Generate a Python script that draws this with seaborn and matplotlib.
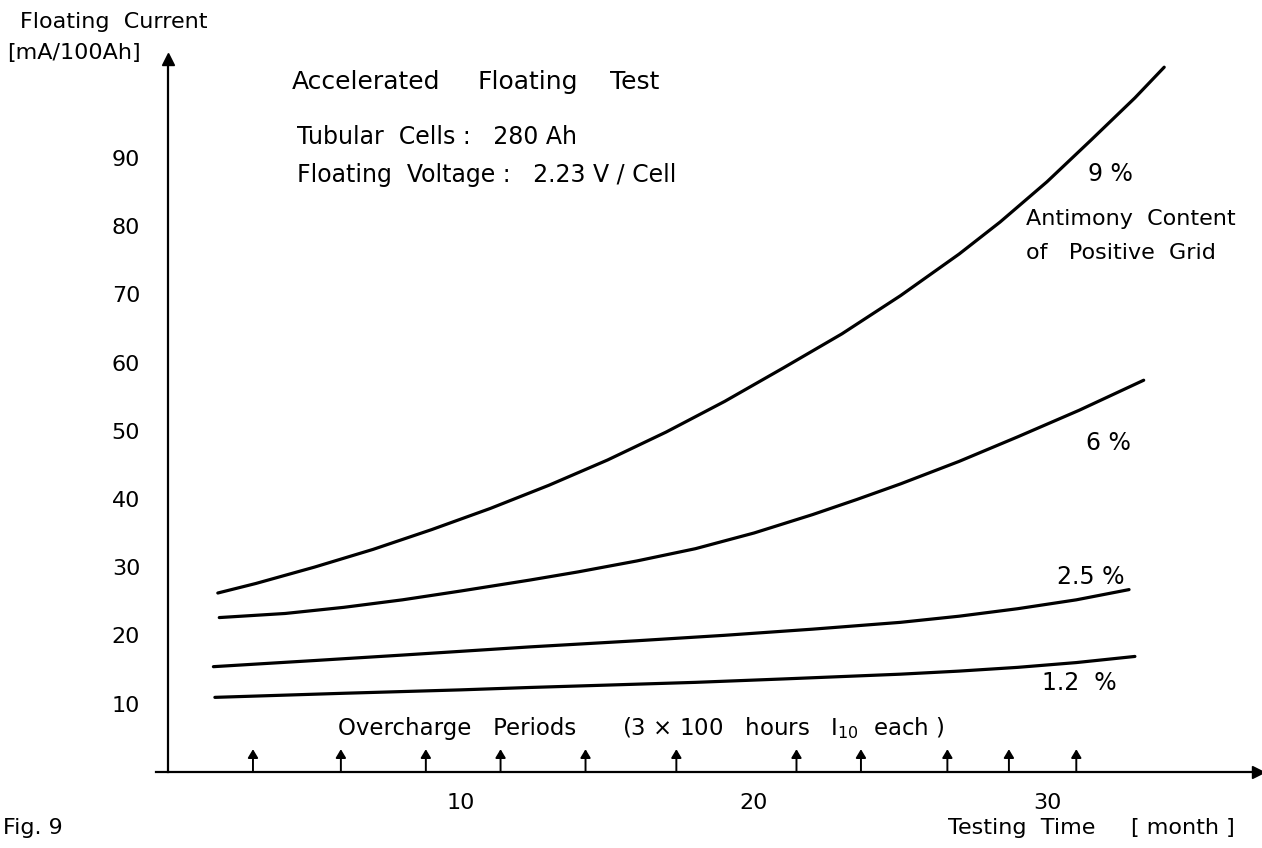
import matplotlib
matplotlib.use("Agg")
import matplotlib.pyplot as plt
import seaborn as sns
import pandas as pd
import numpy as np

# ---- data ----
x_sb9 = [1.7, 3, 5, 7, 9, 11, 13, 15, 17, 19, 21, 23, 25, 27, 28.4, 30, 31.5, 33, 34]
y_sb9 = [26.2, 27.6, 30.0, 32.6, 35.5, 38.6, 42.0, 45.7, 49.8, 54.3, 59.2, 64.2,
         69.8, 75.9, 80.6, 86.5, 92.6, 98.8, 103.3]

x_sb6 = [1.75, 4, 6, 8, 10, 12.35, 14, 16, 18, 20, 22, 23.5, 25, 27, 29, 31.1, 33.3]
y_sb6 = [22.6, 23.2, 24.1, 25.2, 26.5, 28.1, 29.3, 30.9, 32.7, 35.0, 37.7, 39.9,
         42.2, 45.5, 49.1, 53.0, 57.4]

x_sb25 = [1.55, 5, 8, 12.35, 16, 19, 22, 25, 27, 29, 31, 32.8]
y_sb25 = [15.4, 16.3, 17.1, 18.3, 19.2, 20.0, 20.9, 21.9, 22.8, 23.9, 25.2, 26.7]

x_sb12 = [1.6, 6, 10, 12.35, 15, 18, 21, 25, 27, 29, 31, 33]
y_sb12 = [10.9, 11.5, 12.0, 12.35, 12.7, 13.1, 13.6, 14.3, 14.75, 15.3, 16.0, 16.9]

overcharge_x = [2.9, 5.9, 8.8, 11.35, 14.25, 17.35, 21.45, 23.65, 26.6, 28.7, 31.0]

x_ticks = [10, 20, 30]
y_ticks = [10, 20, 30, 40, 50, 60, 70, 80, 90]

series = [("9 %", x_sb9, y_sb9), ("6 %", x_sb6, y_sb6),
          ("2.5 %", x_sb25, y_sb25), ("1.2 %", x_sb12, y_sb12)]
df = pd.concat([pd.DataFrame({"month": xs, "current": ys, "Sb": name})
                for name, xs, ys in series], ignore_index=True)

sns.set_style("white")
plt.rcParams["font.family"] = ["DejaVu Sans"]
plt.rcParams["mathtext.fontset"] = "dejavusans"
plt.rcParams["text.color"] = "black"

W, H = 1262, 848
fig = plt.figure(figsize=(W / 100, H / 100), dpi=100)
ax = fig.add_axes([0, 0, 1, 1])
ax.set_facecolor("white")

x0px, xs_px = 168.0, 29.3
y0px, ys_px = 771.7, 6.82
ax.set_xlim(-x0px / xs_px, (W - x0px) / xs_px)
ax.set_ylim((y0px - H) / ys_px, y0px / ys_px)

sns.lineplot(data=df, x="month", y="current", units="Sb", estimator=None,
             color="black", linewidth=2.3, sort=False, ax=ax, legend=False)
for ln in ax.lines:
    ln.set_solid_joinstyle("round")
    ln.set_solid_capstyle("round")

for s in ["top", "right"]:
    ax.spines[s].set_visible(False)
ax.spines["left"].set_position(("data", 0))
ax.spines["bottom"].set_position(("data", 0))
ax.spines["left"].set_bounds(0, 104)
ax.spines["bottom"].set_bounds(-0.4, 37)
for s in ["left", "bottom"]:
    ax.spines[s].set_linewidth(1.6)
    ax.spines[s].set_color("black")
ax.plot([0], [104.5], marker="^", color="black", markersize=8, clip_on=False)
ax.plot([37.2], [0], marker=">", color="black", markersize=8, clip_on=False)

ax.set_xticks(x_ticks)
ax.set_xticks(np.arange(1, 36), minor=True)
ax.set_yticks(y_ticks)
ax.tick_params(axis="x", which="major", direction="inout", length=13, width=1.4,
               labelsize=16, pad=9, colors="black")
ax.tick_params(axis="x", which="minor", direction="out", length=5, width=1.2,
               colors="black")
ax.tick_params(axis="y", which="major", direction="out", length=6, width=1.4,
               labelsize=16, pad=14, colors="black")
ax.set_xlabel("")
ax.set_ylabel("")

for xv in overcharge_x:
    ax.annotate("", xy=(xv, 3.3), xytext=(xv, 0),
                arrowprops=dict(arrowstyle="-|>,head_length=0.5,head_width=0.3",
                                color="black", lw=1.4, shrinkA=0, shrinkB=0))

fs = 16
ax.text(5.80, 6.4, "Overcharge   Periods", ha="left", va="center", fontsize=16.5)
ax.text(15.48, 6.4, "(3 × 100   hours   I$_{10}$  each )", ha="left",
        va="center", fontsize=16.5)

ax.text(32.15, 87.7, "9 %", ha="center", va="center", fontsize=17)
ax.text(29.3, 81.1, "Antimony  Content", ha="left", va="center", fontsize=fs)
ax.text(29.3, 76.0, "of   Positive  Grid", ha="left", va="center", fontsize=fs)
ax.text(32.1, 48.2, "6 %", ha="center", va="center", fontsize=17)
ax.text(31.5, 28.6, "2.5 %", ha="center", va="center", fontsize=17)
ax.text(31.1, 13.0, "1.2  %", ha="center", va="center", fontsize=17)

for word, xw in [("Accelerated", 4.22), ("Floating", 10.55), ("Test", 15.1)]:
    ax.text(xw, 101.2, word, ha="left", va="center", fontsize=18)
ax.text(4.39, 93.1, "Tubular  Cells :   280 Ah", ha="left", va="center", fontsize=17)
ax.text(4.39, 87.5, "Floating  Voltage :   2.23 V / Cell", ha="left", va="center",
        fontsize=17)

fig.text(20 / W, 1 - 22 / H, "Floating  Current", ha="left", va="center", fontsize=fs)
fig.text(7 / W, 1 - 53 / H, "[mA/100Ah]", ha="left", va="center", fontsize=fs)
fig.text(3 / W, 1 - 828 / H, "Fig. 9", ha="left", va="center", fontsize=fs)
fig.text(1235 / W, 1 - 828 / H, "Testing  Time     [ month ]", ha="right",
         va="center", fontsize=fs)

fig.savefig("out.png", dpi=100, facecolor="white")
